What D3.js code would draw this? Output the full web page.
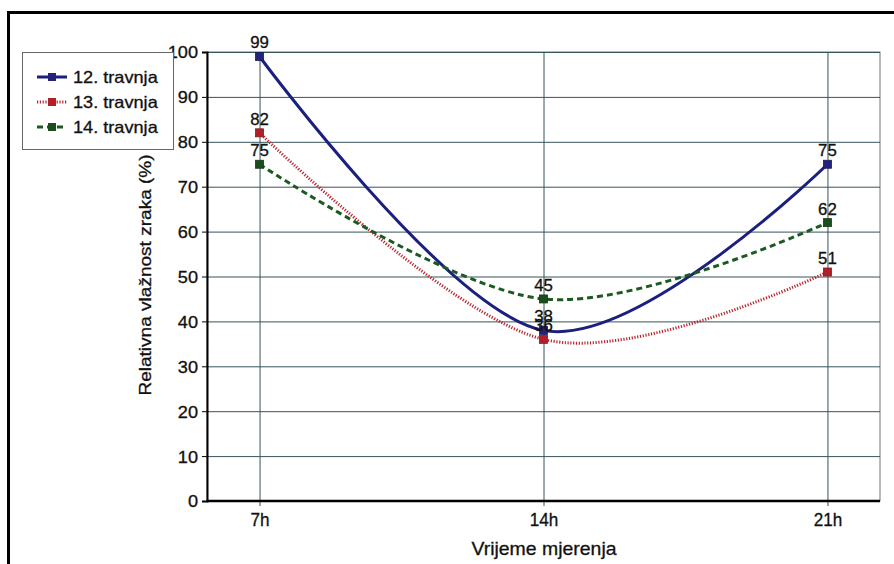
<!DOCTYPE html>
<html><head><meta charset="utf-8">
<script src="https://cdn.jsdelivr.net/npm/d3@7/dist/d3.min.js"></script>
<style>body{margin:0;background:#fff}svg{display:block}text{font-family:Arial,"Liberation Sans",sans-serif;fill:#111;stroke:#111;stroke-width:0.3px}</style>
</head><body><svg id="c" width="894" height="564"></svg>
<script>
const categories = ["7h", "14h", "21h"];
const seriesNames = ["12. travnja", "13. travnja", "14. travnja"];
const s12 = [99, 38, 75];
const s13 = [82, 36, 51];
const s14 = [75, 45, 62];
const yTicks = [0, 10, 20, 30, 40, 50, 60, 70, 80, 90, 100];

const series = [
  {name: seriesNames[0], values: s12, color: "#1b1f7e", mark: "#23237a", dash: null},
  {name: seriesNames[1], values: s13, color: "#b8252f", mark: "#b02028", dash: "1.2,1.6"},
  {name: seriesNames[2], values: s14, color: "#1c5a22", mark: "#1d4d1f", dash: "6,4"}
];

const svg = d3.select("#c");
const L = 207, R = 880, T = 52, B = 501;
const x = d3.scalePoint().domain(categories).range([L, R]).padding(0.185);
const y = d3.scaleLinear().domain([0, 100]).range([B, T]);

// stretch helper: text in the reference is horizontally widened
function stretch(sel, k) {
  sel.each(function() {
    const w = this.getComputedTextLength();
    if (w > 0) d3.select(this).attr("textLength", w * k).attr("lengthAdjust", "spacingAndGlyphs");
  });
}

// frame
svg.append("rect").attr("x", 8.5).attr("y", 12.5).attr("width", 900).attr("height", 600)
  .attr("fill", "none").attr("stroke", "#000").attr("stroke-width", 3);

// plot border
svg.append("rect").attr("x", L).attr("y", T).attr("width", R - L).attr("height", B - T)
  .attr("fill", "none").attr("stroke", "#777").attr("stroke-width", 1);

// grid
const gridColor = "#35545a";
svg.append("g").selectAll("line").data(yTicks.filter(d => d > 0)).join("line")
  .attr("x1", L).attr("x2", R).attr("y1", d => y(d) + 0.5).attr("y2", d => y(d) + 0.5)
  .attr("stroke", gridColor).attr("stroke-width", 1);
svg.append("g").selectAll("line").data(categories).join("line")
  .attr("x1", d => x(d) + 0.5).attr("x2", d => x(d) + 0.5).attr("y1", T).attr("y2", B + 5)
  .attr("stroke", gridColor).attr("stroke-width", 1);

// axes
const yAxis = d3.axisLeft(y).tickValues(yTicks).tickSize(5).tickPadding(4);
const gy = svg.append("g").attr("transform", `translate(${L},0)`).call(yAxis);
gy.select(".domain").attr("stroke", "#000").attr("stroke-width", 2);
gy.selectAll(".tick line").attr("stroke", "#000");
gy.selectAll("text").attr("font-size", 16.5).attr("fill", "#111").attr("dy", "0.36em").call(stretch, 1.1);

const xAxis = d3.axisBottom(x).tickSize(0).tickPadding(12);
const gx = svg.append("g").attr("transform", `translate(0,${B})`).call(xAxis);
gx.select(".domain").attr("stroke", "#000").attr("stroke-width", 2.5).attr("d", `M${L},0H${R}`);
gx.selectAll("text").attr("font-size", 18).attr("fill", "#111").call(stretch, 0.95);

// axis titles
svg.append("text").attr("x", 544).attr("y", 555).attr("text-anchor", "middle")
  .attr("font-size", 18.5).text("Vrijeme mjerenja").call(stretch, 1.05);
svg.append("text").attr("transform", "translate(151,275) rotate(-90)").attr("text-anchor", "middle")
  .attr("font-size", 17).text("Relativna vlažnost zraka (%)").call(stretch, 1.12);

// lines
const line = d3.line().x((d, i) => x(categories[i])).y(d => y(d)).curve(d3.curveCardinal.tension(0));
series.forEach(s => {
  svg.append("path").datum(s.values).attr("d", line).attr("fill", "none")
    .attr("stroke", s.color).attr("stroke-width", 3)
    .attr("stroke-dasharray", s.dash);
});
series.forEach(s => {
  svg.append("g").selectAll("rect").data(s.values).join("rect")
    .attr("x", (d, i) => x(categories[i]) - 4).attr("y", d => y(d) - 4)
    .attr("width", 8).attr("height", 8).attr("fill", s.mark).attr("stroke", d3.color(s.mark).darker(0.8)).attr("stroke-width", 0.8);
});
series.forEach(s => {
  svg.append("g").selectAll("text").data(s.values).join("text")
    .attr("x", (d, i) => x(categories[i])).attr("y", d => y(d) - 8)
    .attr("text-anchor", "middle").attr("font-size", 16).attr("fill", "#111").text(d => d)
    .call(stretch, 1.05);
});

// legend
const lg = svg.append("g");
lg.append("rect").attr("x", 22.5).attr("y", 52.5).attr("width", 151).attr("height", 97)
  .attr("fill", "#fff").attr("stroke", "#666").attr("stroke-width", 1);
series.forEach((s, i) => {
  const yy = 77 + i * 25;
  lg.append("line").attr("x1", 37).attr("x2", 67).attr("y1", yy).attr("y2", yy)
    .attr("stroke", s.color).attr("stroke-width", 3).attr("stroke-dasharray", s.dash);
  lg.append("rect").attr("x", 48).attr("y", yy - 4).attr("width", 8).attr("height", 8).attr("fill", s.mark);
  lg.append("text").attr("x", 73).attr("y", yy + 6).attr("font-size", 16.5).text(s.name).call(stretch, 1.1);
});
</script></body></html>
